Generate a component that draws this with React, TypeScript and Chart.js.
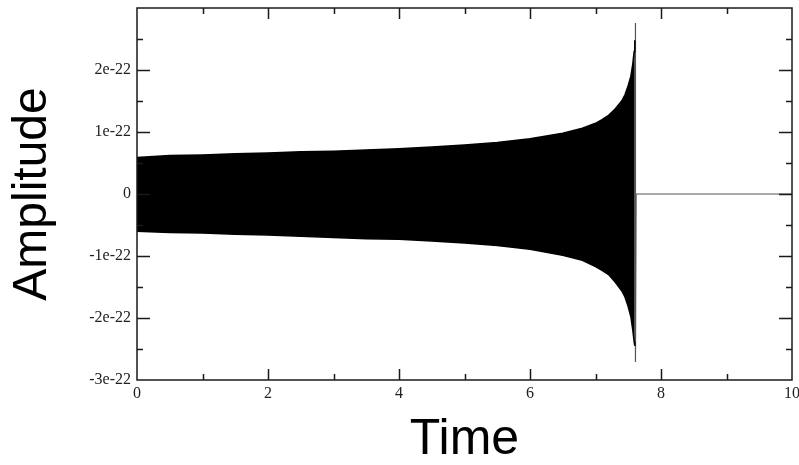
import React, { useEffect, useRef } from "react";
import { Chart, registerables } from "chart.js";

Chart.register(...registerables);

// Chirp envelope, amplitude in units of 1e-22, time in seconds
const envelopeTime = [
  0, 0.5, 1, 1.5, 2, 2.5, 3, 3.5, 4, 4.5, 5, 5.5, 6, 6.5, 6.8, 7.0, 7.1, 7.2,
  7.3, 7.4, 7.45, 7.5, 7.54, 7.57, 7.59, 7.6,
];
const upperEnvelope = [
  0.59, 0.62, 0.63, 0.65, 0.66, 0.68, 0.69, 0.71, 0.73, 0.76, 0.79, 0.83, 0.89,
  0.98, 1.06, 1.14, 1.2, 1.27, 1.37, 1.5, 1.6, 1.75, 1.9, 2.1, 2.3, 2.48,
];
const lowerEnvelope = [
  -0.6, -0.62, -0.63, -0.65, -0.66, -0.68, -0.7, -0.72, -0.73, -0.76, -0.79,
  -0.83, -0.89, -0.99, -1.07, -1.17, -1.23, -1.3, -1.42, -1.56, -1.66, -1.82,
  -1.98, -2.2, -2.38, -2.45,
];

// Peak excursion at merger, then the flat tail
const mergerTime = [7.61, 7.61, 7.62, 10];
const mergerAmp = [2.76, -2.71, 0, 0];

const xTicks = [0, 2, 4, 6, 8, 10];
const yTicks = [-3, -2, -1, 0, 1, 2];

const toPoints = (xs: number[], ys: number[]) =>
  xs.map((x, i) => ({ x, y: ys[i] }));

// Inward-pointing ticks on all four sides plus the plot frame
const frameTicks = {
  id: "frameTicks",
  afterDraw(chart: any) {
    const { ctx, chartArea } = chart;
    const xs = chart.scales.x;
    const ys = chart.scales.y;
    const { left, right, top, bottom } = chartArea;
    ctx.save();
    ctx.strokeStyle = "#1a1a1a";
    ctx.lineWidth = 1.5;
    ctx.strokeRect(left, top, right - left, bottom - top);
    ctx.beginPath();
    for (let v = 1; v < 10; v += 1) {
      const px = Math.round(xs.getPixelForValue(v)) + 0.5;
      const len = xTicks.includes(v) ? 11 : 6;
      ctx.moveTo(px, bottom);
      ctx.lineTo(px, bottom - len);
      ctx.moveTo(px, top);
      ctx.lineTo(px, top + len);
    }
    for (let v = -2.5; v < 3; v += 0.5) {
      const py = Math.round(ys.getPixelForValue(v)) + 0.5;
      const len = Number.isInteger(v) ? 13 : 6;
      ctx.moveTo(left, py);
      ctx.lineTo(left + len, py);
      ctx.moveTo(right, py);
      ctx.lineTo(right - len, py);
    }
    ctx.stroke();
    ctx.restore();
  },
};

export default function App() {
  const canvasRef = useRef<HTMLCanvasElement | null>(null);

  useEffect(() => {
    const canvas = canvasRef.current;
    if (!canvas) return;
    const tickFont = { family: "'Liberation Serif', 'Times New Roman', serif", size: 16 };
    const chart = new Chart(canvas, {
      type: "line",
      data: {
        datasets: [
          {
            data: toPoints(envelopeTime, upperEnvelope),
            borderColor: "#000",
            backgroundColor: "#000",
            borderWidth: 1.5,
            pointRadius: 0,
            fill: "+1",
            tension: 0,
          },
          {
            data: toPoints(envelopeTime, lowerEnvelope),
            borderColor: "#000",
            borderWidth: 1.5,
            pointRadius: 0,
            fill: false,
            tension: 0,
          },
          {
            data: toPoints(mergerTime, mergerAmp),
            borderColor: "#555",
            borderWidth: 1.2,
            pointRadius: 0,
            fill: false,
            tension: 0,
          },
        ],
      },
      options: {
        animation: false,
        responsive: false,
        devicePixelRatio: 1,
        layout: { padding: { top: 8, right: 7, left: 0, bottom: 0 } },
        plugins: {
          legend: { display: false },
          tooltip: { enabled: false },
        },
        scales: {
          x: {
            type: "linear",
            min: 0,
            max: 10,
            grid: { display: false, drawTicks: false },
            border: { display: false },
            ticks: {
              stepSize: 2,
              color: "#222",
              font: tickFont,
              padding: 4,
              maxRotation: 0,
              callback: (v: any) => (xTicks.includes(Number(v)) ? String(v) : ""),
            },
            title: {
              display: true,
              text: "Time",
              color: "#000",
              font: { family: "'Liberation Sans', Arial, sans-serif", size: 50, lineHeight: 1 },
              padding: { top: 0, bottom: 0 },
            },
            afterFit: (scale: any) => {
              scale.height = 85;
              scale.paddingLeft = 0;
              scale.paddingRight = 0;
            },
          },
          y: {
            min: -3,
            max: 3,
            grid: { display: false, drawTicks: false },
            border: { display: false },
            ticks: {
              stepSize: 1,
              color: "#222",
              font: tickFont,
              padding: 6,
              callback: (v: any) => {
                const n = Math.round(Number(v));
                if (!yTicks.includes(n)) return "";
                return n === 0 ? "0" : `${n}e-22`;
              },
            },
            title: {
              display: true,
              text: "Amplitude",
              color: "#000",
              font: { family: "'Liberation Sans', Arial, sans-serif", size: 48, lineHeight: 1 },
              padding: { top: 9, bottom: 0 },
            },
            afterFit: (scale: any) => {
              scale.width = 137;
              scale.paddingTop = 0;
              scale.paddingBottom = 0;
            },
          },
        },
      },
      plugins: [frameTicks],
    });
    return () => chart.destroy();
  }, []);

  return (
    <div style={{ position: "absolute", left: 0, top: 0, width: 799, height: 465, background: "#fff" }}>
      <canvas ref={canvasRef} width={799} height={465} />
    </div>
  );
}
